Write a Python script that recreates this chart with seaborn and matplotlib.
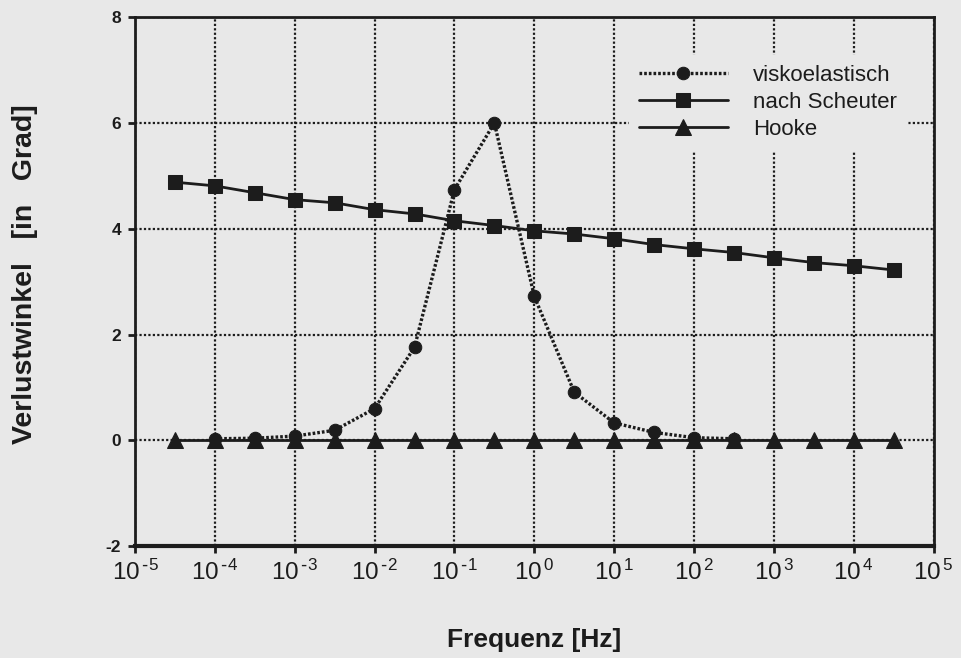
import numpy as np
import pandas as pd
import matplotlib
matplotlib.use("Agg")
import matplotlib.pyplot as plt
import seaborn as sns
from matplotlib.ticker import FixedLocator, FixedFormatter, NullLocator

# ---- data ----
log_f_all = [-4.5, -4.0, -3.5, -3.0, -2.5, -2.0, -1.5, -1.0, -0.5, 0.0,
             0.5, 1.0, 1.5, 2.0, 2.5, 3.0, 3.5, 4.0, 4.5]
scheuter = [4.88, 4.81, 4.68, 4.55, 4.49, 4.36, 4.28, 4.15, 4.06, 3.96,
            3.90, 3.81, 3.70, 3.62, 3.55, 3.45, 3.36, 3.30, 3.22]
hooke = [0.0] * 19
log_f_visko = [-4.0, -3.5, -3.0, -2.5, -2.0, -1.5, -1.0, -0.5, 0.0,
               0.5, 1.0, 1.5, 2.0, 2.5]
visko = [0.03, 0.04, 0.08, 0.19, 0.60, 1.76, 4.74, 6.00, 2.72,
         0.91, 0.33, 0.15, 0.05, 0.03]
x_ticks_exp = [-5, -4, -3, -2, -1, 0, 1, 2, 3, 4, 5]
y_ticks = [-2, 0, 2, 4, 6, 8]

labels = ["viskoelastisch", "nach Scheuter", "Hooke"]

freq_all = [10.0 ** e for e in log_f_all]
freq_visko = [10.0 ** e for e in log_f_visko]

df_v = pd.DataFrame({"f": freq_visko, "w": visko})
df_s = pd.DataFrame({"f": freq_all, "w": scheuter})
df_h = pd.DataFrame({"f": freq_all, "w": hooke})

bg = "#e8e8e8"
ink = "#1c1c1c"

sns.set_theme(style="white")
plt.rcParams["font.family"] = ["Liberation Sans", "DejaVu Sans"]

fig = plt.figure(figsize=(9.61, 6.58), dpi=100, facecolor=bg)
ax = fig.add_axes([0.1405, 0.170, 0.831, 0.804])
ax.set_facecolor(bg)

sns.lineplot(data=df_v, x="f", y="w", ax=ax, color=ink, lw=2.4,
             linestyle=(0, (0.8, 0.6)), marker="o", markersize=9,
             markeredgecolor=ink, label=labels[0], zorder=4)
sns.lineplot(data=df_s, x="f", y="w", ax=ax, color=ink, lw=2.0,
             marker="s", markersize=10, markeredgecolor=ink,
             label=labels[1], zorder=3)
sns.lineplot(data=df_h, x="f", y="w", ax=ax, color=ink, lw=2.0,
             marker="^", markersize=11.5, markeredgecolor=ink,
             label=labels[2], zorder=5)

ax.set_xscale("log")
ax.set_xlim(1e-5, 1e5)
ax.set_ylim(-2, 8)

ax.xaxis.set_major_locator(FixedLocator([10.0 ** e for e in x_ticks_exp]))
ax.xaxis.set_major_formatter(FixedFormatter(
    [r"$\mathregular{10^{\,\text{-}%d}}$" % (-e) if e < 0
     else r"$\mathregular{10^{\,%d}}$" % e for e in x_ticks_exp]))
ax.xaxis.set_minor_locator(NullLocator())
ax.set_yticks(y_ticks)
ax.set_yticklabels([str(v) for v in y_ticks])

ax.grid(True, which="major", color=ink, linestyle=(0, (1, 1)), lw=1.6)
ax.set_axisbelow(True)

for side in ["left", "right", "top"]:
    ax.spines[side].set_color(ink)
    ax.spines[side].set_linewidth(2.0)
ax.spines["bottom"].set_color(ink)
ax.spines["bottom"].set_linewidth(3.0)

ax.tick_params(axis="both", direction="out", length=5, width=2, color=ink,
               bottom=True, left=True)
ax.tick_params(axis="x", labelsize=17.5, labelcolor=ink, pad=5)
ax.tick_params(axis="y", labelsize=12.5, labelcolor=ink, pad=5)
for t in ax.get_yticklabels():
    t.set_fontweight("bold")

ax.set_xlabel("Frequenz [Hz]", fontsize=19, fontweight="bold", color=ink,
              labelpad=31)
ax.set_ylabel("Verlustwinkel   [in   Grad]", fontsize=20.5, fontweight="bold",
              color=ink)
ax.yaxis.set_label_coords(-0.121, 0.515)

leg = ax.legend(loc="upper right", bbox_to_anchor=(0.967, 0.929),
                borderaxespad=0.0,
                frameon=True, facecolor=bg, edgecolor=bg, framealpha=1,
                fontsize=16, handlelength=4.0, handletextpad=1.15,
                labelspacing=0.28, borderpad=0.45)
for txt in leg.get_texts():
    txt.set_color(ink)
leg.set_zorder(10)

fig.savefig("out.png", dpi=100, facecolor=bg)
